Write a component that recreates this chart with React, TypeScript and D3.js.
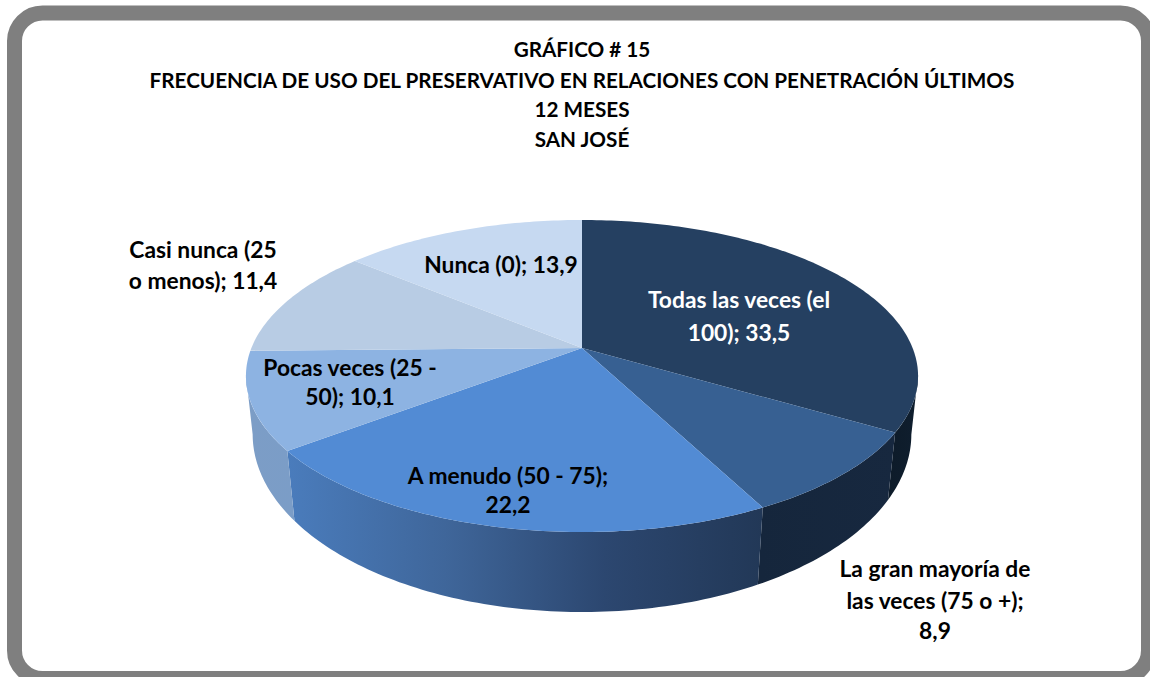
import React from "react";
import * as d3 from "d3";

const titleLines = [
  "GRÁFICO # 15",
  "FRECUENCIA DE USO DEL PRESERVATIVO EN RELACIONES CON PENETRACIÓN ÚLTIMOS",
  "12 MESES",
  "SAN JOSÉ",
];
const categories = [
  "Todas las veces (el 100)",
  "La gran mayoría de las veces (75 o +)",
  "A menudo (50 - 75)",
  "Pocas veces (25 - 50)",
  "Casi nunca (25 o menos)",
  "Nunca (0)",
];
const values = [33.5, 8.9, 22.2, 10.1, 11.4, 13.9];
const topColors = ["#254061", "#376092", "#528bd4", "#8db3e2", "#b8cce4", "#c6d9f1"];
const wallStops = [
  ["#0d1b29", "#0f1e2e"],
  ["#15263c", "#17283f"],
  ["#4a7cbc", "#3f669a", "#2c4770", "#223857"],
  ["#7c9dc6", "#7b9dc7"],
  ["#8aa6c8", "#8aa6c8"],
  ["#95a9c4", "#95a9c4"],
];
const labelLineBreaks = [
  ["Todas las veces (el", "100); 33,5"],
  ["La gran mayoría de", "las veces (75 o +);", "8,9"],
  ["A menudo (50 - 75);", "22,2"],
  ["Pocas veces (25 -", "50); 10,1"],
  ["Casi nunca (25", "o menos); 11,4"],
  ["Nunca (0); 13,9"],
];
const labelX = [739, 935, 508, 350, 203, 501];
const labelY = [[299, 332], [568, 600, 630], [475, 504], [367, 396], [249, 280], [264]];
const labelFill = ["#ffffff", "#000000", "#000000", "#000000", "#000000", "#000000"];
const titleY = [49, 80, 109, 139];

const FONT = "Lato, 'Open Sans', sans-serif";
const CX = 582;
const top = { cy: 348, A: 330.6, B: 151, k: 0.1795 };
const bottom = { cy: 403.7, A: 324.5, B: 172.7, k: 0.171 };
const VIS_START = (100 * Math.PI) / 180;
const VIS_END = (260 * Math.PI) / 180;

type Ring = typeof top;
const project = (r: Ring, a: number): [number, number] => {
  const u = Math.sin(a);
  const v = -Math.cos(a);
  const d = 1 - r.k * v;
  return [CX + (r.A * u) / d, r.cy + (r.B * v) / d];
};
const sample = (a0: number, a1: number) => {
  const n = Math.max(2, Math.ceil(((a1 - a0) * 180) / Math.PI));
  return d3.range(n + 1).map((i) => a0 + ((a1 - a0) * i) / n);
};
const line = d3.line<[number, number]>();

const pie = d3
  .pie<number>()
  .sort(null)
  .startAngle(0)
  .endAngle(2 * Math.PI)
  .value((d) => d);
const arcs = pie(values);

export default function App() {
  const walls = arcs
    .map((s, i) => {
      const a0 = Math.max(s.startAngle, VIS_START);
      const a1 = Math.min(s.endAngle, VIS_END);
      if (a1 <= a0) return null;
      const angles = sample(a0, a1);
      const pts = [
        ...angles.map((a) => project(top, a)),
        ...angles.slice().reverse().map((a) => project(bottom, a)),
      ];
      const xs = pts.map((p) => p[0]);
      return { i, d: line(pts) + "Z", x0: d3.min(xs)!, x1: d3.max(xs)! };
    })
    .filter(Boolean) as { i: number; d: string; x0: number; x1: number }[];

  return (
    <svg
      width={1150}
      height={677}
      viewBox="0 0 1150 677"
      style={{ position: "absolute", left: 0, top: 0, display: "block" }}
    >
      <defs>
        {walls.map((w) => (
          <linearGradient
            key={w.i}
            id={`wall${w.i}`}
            gradientUnits="userSpaceOnUse"
            x1={w.x0}
            x2={w.x1}
            y1={0}
            y2={0}
          >
            {wallStops[w.i].map((c, j, all) => (
              <stop key={j} offset={j / (all.length - 1)} stopColor={c} />
            ))}
          </linearGradient>
        ))}
      </defs>
      <rect width={1150} height={677} fill="#ffffff" />
      <rect
        x={14.5}
        y={13}
        width={1134}
        height={665.5}
        rx={28}
        ry={28}
        fill="#ffffff"
        stroke="#7f7f7f"
        strokeWidth={15}
      />
      <g>
        {walls.map((w) => (
          <path key={w.i} d={w.d} fill={`url(#wall${w.i})`} />
        ))}
        {arcs.map((s, i) => {
          const pts = [
            [CX, top.cy] as [number, number],
            ...sample(s.startAngle, s.endAngle).map((a) => project(top, a)),
          ];
          return <path key={i} d={line(pts) + "Z"} fill={topColors[i]} />;
        })}
      </g>
      <g fontFamily={FONT} fontWeight={700} fill="#000000" textAnchor="middle">
        {titleLines.map((t, i) => (
          <text key={i} x={CX} y={titleY[i]} dominantBaseline="central" fontSize={20.7}>
            {t}
          </text>
        ))}
        {labelLineBreaks.map((ls, i) =>
          ls.map((t, j) => (
            <text
              key={`${i}-${j}`}
              x={labelX[i]}
              y={labelY[i][j]}
              dominantBaseline="central"
              fontSize={22.8}
              fill={labelFill[i]}
            >
              {t}
            </text>
          ))
        )}
      </g>
    </svg>
  );
}
